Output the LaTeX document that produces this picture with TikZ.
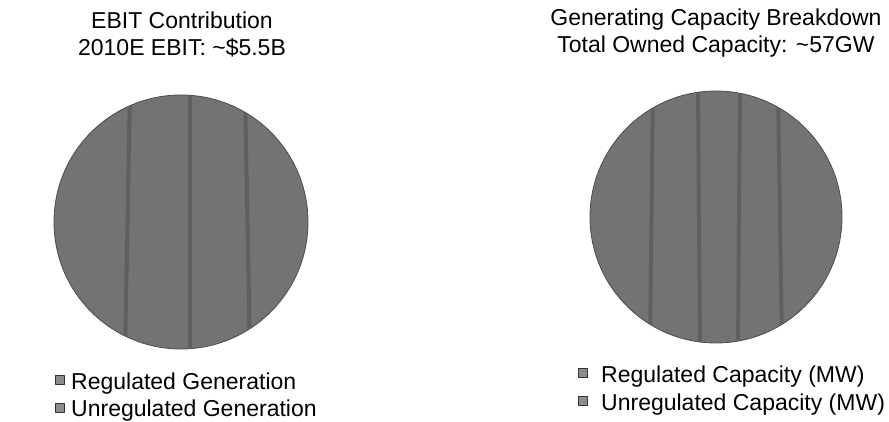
\documentclass[tikz,border=0pt]{standalone}
\usepackage{fontspec}
\setmainfont{Liberation Sans}
\begin{document}
\begin{tikzpicture}[
    x=1pt,
    y=-1pt,
    line cap=round,
    line join=round,
    pie/.style={
        fill=black!55,
        draw=black!70,
        line width=0.8pt
    },
    streak/.style={
        line width=4pt,
        black!80,
        opacity=0.3
    },
    swatch/.style={
        draw=black!80,
        fill=black!45,
        line width=0.7pt,
        minimum size=9pt,
        inner sep=0pt
    },
    every node/.style={
        font=\fontsize{23}{27}\selectfont,
        inner sep=0pt
    }
]

\useasboundingbox (0,0) rectangle (889,422);

% =================================================
% Centres of the two pies
% =================================================

\coordinate (ebit) at (181,222);
\coordinate (cap)  at (716,217);

% =================================================
% Titles
% =================================================

\node[anchor=base] (ebitT1) at (182,29) {EBIT Contribution};
\node[anchor=base] (ebitT2) at (182,56) {2010E EBIT: \textasciitilde\$5.5B};

\node[anchor=base] (capT1) at (716,26) {Generating Capacity Breakdown};
\node[anchor=base] (capT2) at (716,53) {Total Owned Capacity: \textasciitilde57GW};

% =================================================
% Pies (the scan shows one grey disc each)
% =================================================

\fill[pie] (ebit) circle[radius=127pt];
\begin{scope}
    \clip (ebit) circle[radius=126pt];
    \draw[streak] (190,90) -- (190,355);
    \draw[streak] (130,90) -- (125,355);
    \draw[streak] (245,90) -- (250,355);
\end{scope}

\fill[pie] (cap) circle[radius=126pt];
\begin{scope}
    \clip (cap) circle[radius=125pt];
    \draw[streak] (653,85) -- (650,350);
    \draw[streak] (698,85) -- (700,350);
    \draw[streak] (740,85) -- (738,350);
    \draw[streak] (778,85) -- (782,350);
\end{scope}

% =================================================
% Legends
% =================================================

\node[swatch] (ebitS1) at (60,380) {};
\node[swatch] (ebitS2) at (60,408) {};
\node[anchor=base west] (ebitL1) at (71,389) {Regulated Generation};
\node[anchor=base west] (ebitL2) at (71,416) {Unregulated Generation};

\node[swatch] (capS1) at (583,373) {};
\node[swatch] (capS2) at (583,401) {};
\node[anchor=base west] (capL1) at (601,382) {Regulated Capacity (MW)};
\node[anchor=base west] (capL2) at (601,410) {Unregulated Capacity (MW)};

\end{tikzpicture}
\end{document}
